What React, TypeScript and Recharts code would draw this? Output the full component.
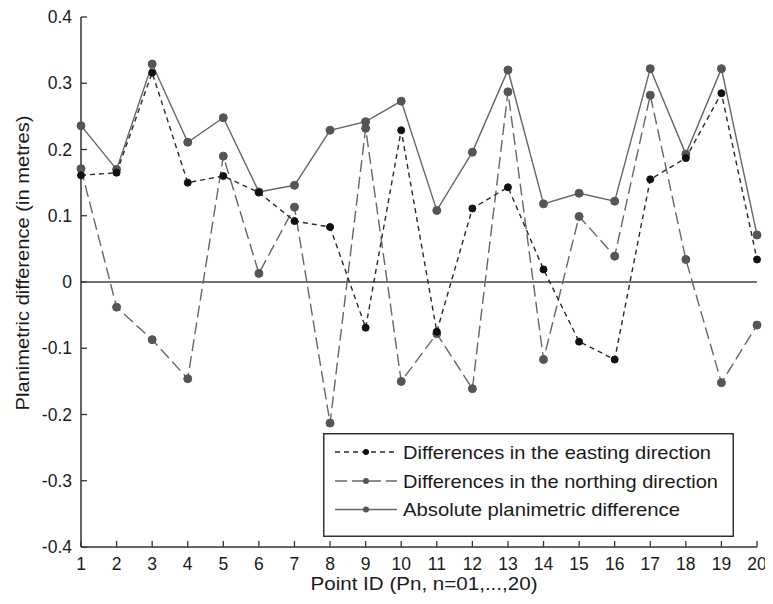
import React from 'react';
import { LineChart, Line, XAxis, YAxis, ReferenceLine, Legend, Label } from 'recharts';

const pointIds = [1, 2, 3, 4, 5, 6, 7, 8, 9, 10, 11, 12, 13, 14, 15, 16, 17, 18, 19, 20];
const easting = [0.161, 0.165, 0.316, 0.15, 0.16, 0.135, 0.092, 0.083, -0.069, 0.229, -0.075, 0.111, 0.143, 0.019, -0.09, -0.117, 0.155, 0.187, 0.285, 0.034];
const northing = [0.171, -0.038, -0.087, -0.146, 0.19, 0.013, 0.113, -0.213, 0.232, -0.15, -0.078, -0.161, 0.287, -0.117, 0.099, 0.039, 0.282, 0.034, -0.152, -0.065];
const absolute = [0.236, 0.17, 0.329, 0.211, 0.248, 0.136, 0.146, 0.229, 0.242, 0.273, 0.108, 0.196, 0.32, 0.118, 0.134, 0.122, 0.322, 0.193, 0.322, 0.071];
const yTicks = [-0.4, -0.3, -0.2, -0.1, 0, 0.1, 0.2, 0.3, 0.4];
const seriesNames = [
  'Differences in the easting direction',
  'Differences in the northing direction',
  'Absolute planimetric difference',
];
const xTitle = 'Point ID (Pn, n=01,...,20)';
const yTitle = 'Planimetric difference (in metres)';

const data = pointIds.map((p, i) => ({ p, e: easting[i], n: northing[i], a: absolute[i] }));

const FONT = '"Liberation Sans", Arial, sans-serif';
const AXIS = '#333';
const TXT = '#1a1a1a';
const TICKLEN = 6;

const fmtY = (v: number) => (v === 0 ? '0' : v.toFixed(1));

const BottomTick = (props: any) => {
  const { x, y, payload } = props;
  return (
    <g>
      <line x1={x} y1={y} x2={x} y2={y - TICKLEN} stroke={AXIS} strokeWidth={1.3} />
      <text x={x} y={y + 23} textAnchor="middle" fontSize={17.5} fill={TXT} fontFamily={FONT}>
        {payload.value}
      </text>
    </g>
  );
};
const TopTick = (props: any) => {
  const { x, y } = props;
  return <line x1={x} y1={y} x2={x} y2={y + TICKLEN} stroke={AXIS} strokeWidth={1.3} />;
};
const LeftTick = (props: any) => {
  const { x, y, payload } = props;
  return (
    <g>
      <line x1={x} y1={y} x2={x + TICKLEN} y2={y} stroke={AXIS} strokeWidth={1.3} />
      <text x={x - 9} y={y + 6} textAnchor="end" fontSize={17.5} fill={TXT} fontFamily={FONT}>
        {fmtY(payload.value)}
      </text>
    </g>
  );
};
const RightTick = (props: any) => {
  const { x, y } = props;
  return <line x1={x} y1={y} x2={x - TICKLEN} y2={y} stroke={AXIS} strokeWidth={1.3} />;
};

const legendStyles = [
  { stroke: '#2a2a2a', dash: '5 4', fill: '#111', w: 308 },
  { stroke: '#666', dash: '12 5', fill: '#555', w: 315 },
  { stroke: '#666', dash: undefined, fill: '#555', w: 277 },
];
const rowY = [19, 48, 76.5];

const LegendBox = () => (
  <svg width={411} height={104} style={{ display: 'block', background: '#fff' }}>
    <rect x={0.75} y={0.75} width={409.5} height={102.5} fill="#fff" stroke="#333" strokeWidth={1.5} />
    {seriesNames.map((name, i) => (
      <g key={name}>
        <line x1={12} y1={rowY[i]} x2={74} y2={rowY[i]} stroke={legendStyles[i].stroke} strokeWidth={1.3} strokeDasharray={legendStyles[i].dash} />
        <circle cx={43} cy={rowY[i]} r={3} fill={legendStyles[i].fill} />
        <text
          x={80}
          y={rowY[i] + 6.5}
          fontSize={19}
          fill={TXT}
          fontFamily={FONT}
          textLength={legendStyles[i].w}
          lengthAdjust="spacingAndGlyphs"
        >
          {name}
        </text>
      </g>
    ))}
  </svg>
);

export default function App() {
  return (
    <LineChart width={765} height={596} data={data} margin={{ top: 9, right: 16, left: 0, bottom: 27 }} style={{ background: '#fff' }}>
      <XAxis
        xAxisId="b"
        dataKey="p"
        type="number"
        domain={[1, 20]}
        ticks={pointIds}
        height={30}
        tickSize={0}
        tickMargin={0}
        tick={<BottomTick />}
        axisLine={{ stroke: AXIS, strokeWidth: 1.5 }}
        interval={0}
      >
        <Label
          content={(props: any) => {
            const vb = props.viewBox || {};
            return (
              <text
                x={vb.x + vb.width / 2 + 5}
                y={vb.y + 43}
                textAnchor="middle"
                fontSize={19}
                fill={TXT}
                fontFamily={FONT}
                textLength={227}
                lengthAdjust="spacingAndGlyphs"
              >
                {xTitle}
              </text>
            );
          }}
        />
      </XAxis>
      <XAxis
        xAxisId="t"
        orientation="top"
        dataKey="p"
        type="number"
        domain={[1, 20]}
        ticks={pointIds}
        height={0}
        tickSize={0}
        tickMargin={0}
        tick={<TopTick />}
        axisLine={{ stroke: AXIS, strokeWidth: 1.5 }}
        interval={0}
      />
      <YAxis
        yAxisId="l"
        type="number"
        domain={[-0.4, 0.4]}
        ticks={yTicks}
        width={73}
        tickSize={0}
        tickMargin={0}
        tick={<LeftTick />}
        axisLine={{ stroke: AXIS, strokeWidth: 1.5 }}
        interval={0}
      >
        <Label
          content={(props: any) => {
            const vb = props.viewBox || {};
            const cx = 21;
            const cy = vb.y + vb.height / 2 - 19;
            return (
              <text
                x={cx}
                y={cy}
                transform={`rotate(-90, ${cx}, ${cy})`}
                textAnchor="middle"
                fontSize={17.5}
                fill={TXT}
                fontFamily={FONT}
                textLength={295}
                lengthAdjust="spacingAndGlyphs"
              >
                {yTitle}
              </text>
            );
          }}
        />
      </YAxis>
      <YAxis
        yAxisId="r"
        orientation="right"
        type="number"
        domain={[-0.4, 0.4]}
        ticks={yTicks}
        width={0}
        tickSize={0}
        tickMargin={0}
        tick={<RightTick />}
        axisLine={{ stroke: AXIS, strokeWidth: 1.5 }}
        interval={0}
      />
      <ReferenceLine xAxisId="b" yAxisId="l" y={0} stroke="#444" strokeWidth={1.3} />
      <Line
        xAxisId="b"
        yAxisId="l"
        dataKey="a"
        name={seriesNames[2]}
        stroke="#666"
        strokeWidth={1.4}
        dot={{ r: 4, fill: '#555', stroke: '#555', strokeWidth: 1 }}
        isAnimationActive={false}
      />
      <Line
        xAxisId="b"
        yAxisId="l"
        dataKey="n"
        name={seriesNames[1]}
        stroke="#666"
        strokeWidth={1.4}
        strokeDasharray="12 5"
        dot={{ r: 4, fill: '#555', stroke: '#555', strokeWidth: 1, strokeDasharray: '' }}
        isAnimationActive={false}
      />
      <Line
        xAxisId="b"
        yAxisId="l"
        dataKey="e"
        name={seriesNames[0]}
        stroke="#2a2a2a"
        strokeWidth={1.4}
        strokeDasharray="5 4"
        dot={{ r: 3.5, fill: '#111', stroke: '#111', strokeWidth: 1, strokeDasharray: '' }}
        isAnimationActive={false}
      />
      <Legend
        layout="vertical"
        align="center"
        verticalAlign="middle"
        content={<LegendBox />}
        wrapperStyle={{ left: 315, top: 425, width: 411, height: 104, right: 'auto', bottom: 'auto' }}
      />
    </LineChart>
  );
}
